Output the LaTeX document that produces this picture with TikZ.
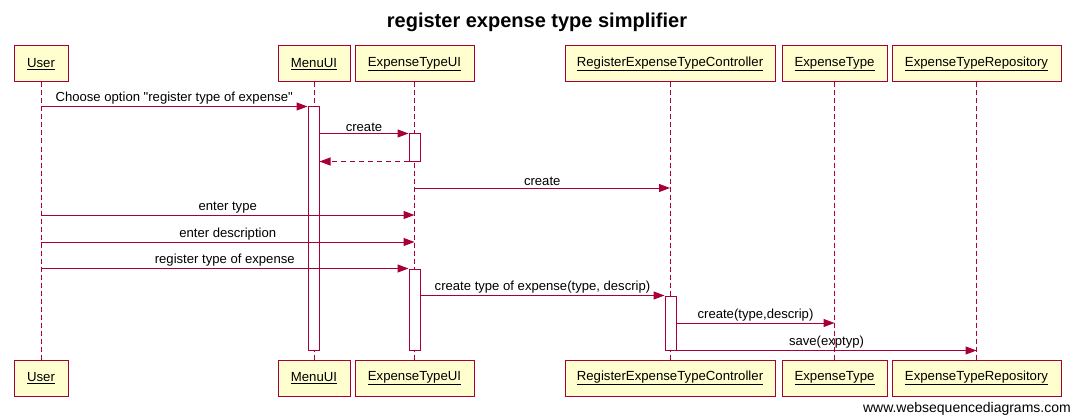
\documentclass[tikz,border=0pt]{standalone}
\usepackage{fontspec}
\setmainfont{Liberation Sans}
\usetikzlibrary{
		calc,
		positioning,
		arrows.meta
	}
\definecolor{wsdred}{HTML}{A80036}
\definecolor{wsdfill}{HTML}{FEFECE}
\tikzset{
		>={Triangle[length=11pt,width=8pt]}
	}
\newcommand{\straightq}{\XeTeXglyph\XeTeXcharglyph"22 }

\begin{document}
\begin{tikzpicture}[x=1pt, y=-1pt,
					party/.style={draw=wsdred, fill=wsdfill, line width=1pt, minimum height=36pt, inner sep=0pt, font=\fontsize{13.2}{15}\selectfont},
					life/.style={draw=wsdred, line width=1pt, dash pattern=on 5pt off 3pt},
					act/.style={draw=wsdred, fill=white, line width=1pt, minimum width=11pt, inner sep=0pt},
					msg/.style={draw=wsdred, line width=1pt, ->},
					reply/.style={msg, dash pattern=on 5pt off 4pt},
					lbl/.style={above, inner sep=1.5pt, text=black, font=\fontsize{13.1}{15}\selectfont}]
		\useasboundingbox (0,0) rectangle (1073,417);
		\node[font=\bfseries\fontsize{20}{23}\selectfont] (title) at (537,22) {register expense type simplifier};
		% participants, top and bottom
		\foreach \p/\t/\w/\x in {user/User/54/41, menu/MenuUI/72/314, etui/ExpenseTypeUI/119/414.5,
				ctrl/RegisterExpenseTypeController/210/670, et/ExpenseType/105/834.5, repo/ExpenseTypeRepository/169/976.5} {
			\node[party, minimum width=\w pt] (\p) at (\x,64) {\underline{\t}};
			\node[party, minimum width=\w pt] (\p-b) at (\x,378) {\underline{\t}};
			\draw[life] (\p) -- (\p-b);
		}
		% activations
		\node[act, minimum height=243pt] (a1) at (313.5,228.5) {};
		\node[act, minimum height=27pt] (a2) at (414.5,147.5) {};
		\node[act, minimum height=81pt] (a3) at (414.5,309.5) {};
		\node[act, minimum height=54pt] (a4) at (670.5,323) {};
		% messages
		\draw[msg] (user |- a1.north) -- node[lbl] {Choose option \straightq register type of expense\straightq} (a1.north west);
		\draw[msg] (a1.east |- a2.north) -- node[lbl] {create} (a2.north west);
		\draw[reply] (a2.south west) -- (a1.east |- a2.south);
		\draw[msg] (etui |- 0,188) -- node[lbl] {create} (ctrl |- 0,188);
		\draw[msg] (user |- 0,215) -- node[lbl] {enter type} (etui |- 0,215);
		\draw[msg] (user |- 0,242) -- node[lbl] {enter description} (etui |- 0,242);
		\draw[msg] (user |- a3.north) -- node[lbl] {register type of expense} (a3.north west);
		\draw[msg] (a3.east |- a4.north) -- node[lbl] {create type of expense(type, descrip)} (a4.north west);
		\draw[msg] (a4.east |- 0,323) -- node[lbl] {create(type,descrip)} (et |- 0,323);
		\draw[msg] (a4.south east) -- node[lbl] {save(exptyp)} (repo |- a4.south);
		\node[anchor=east, inner sep=0pt, font=\fontsize{14}{16}\selectfont] (site) at (1071,409) {www.websequencediagrams.com};
	\end{tikzpicture}
\end{document}
